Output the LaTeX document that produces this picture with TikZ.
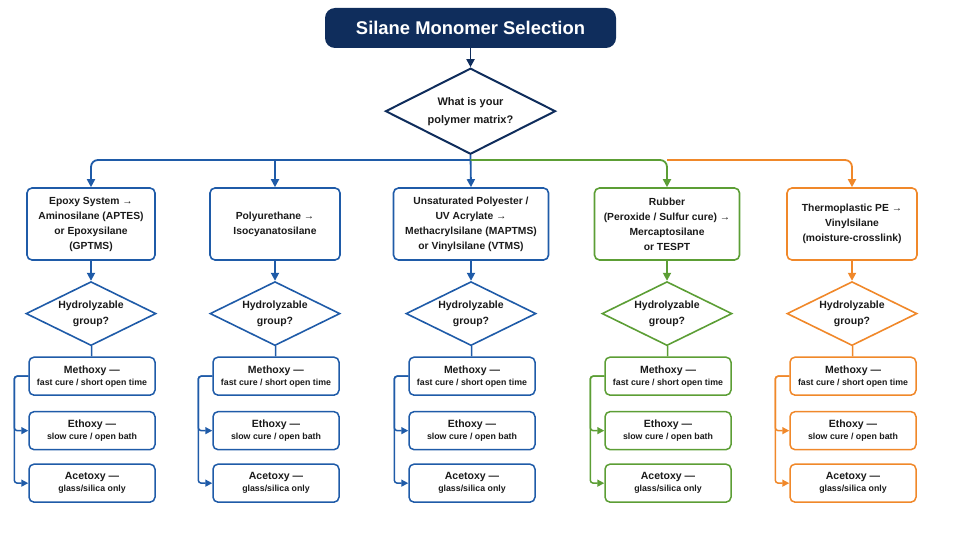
\documentclass[tikz,border=0pt]{standalone}
\usepackage{fontspec}
\setmainfont{Liberation Sans}
\usepackage{tikz}
\usetikzlibrary{arrows.meta, positioning, shapes.geometric}
\usepackage{xcolor}
\definecolor{smnavy}{HTML}{0F2D5C}
\definecolor{smblue}{HTML}{1F5BA8}
\definecolor{smgreen}{HTML}{5C9E35}
\definecolor{smorange}{HTML}{F0882A}
\definecolor{smtext}{HTML}{1A1A1A}

\begin{document}
\begin{tikzpicture}[x=1pt, y=-1pt,
  title/.style={rounded corners=10pt, fill=smnavy, text=white, minimum width=291pt,
                minimum height=40pt, font=\fontsize{18.4}{22}\selectfont\bfseries},
  bigq/.style={diamond, aspect=2, draw=smnavy, line width=2pt, minimum width=170pt, minimum height=86pt,
               inner sep=0pt, align=center, text=smtext, font=\fontsize{11}{18}\selectfont\bfseries},
  pick/.style={rounded corners=5pt, draw, line width=1.6pt, minimum height=72pt, inner sep=3pt,
               align=center, text=smtext, font=\fontsize{10.3}{15}\selectfont\bfseries},
  hq/.style={diamond, aspect=2, draw, line width=1.6pt, minimum width=130pt, minimum height=64pt,
             inner sep=0pt, align=center, text=smtext, font=\fontsize{10.5}{16}\selectfont\bfseries},
  opt/.style={rounded corners=5pt, draw, line width=1.5pt, minimum width=126pt, minimum height=38pt,
              inner sep=2pt, align=center, text=smtext, font=\bfseries},
  link/.style={line width=1.8pt, -{Triangle[length=8pt, width=8pt]}},
  sublink/.style={line width=1.5pt, -{Triangle[length=7pt, width=7pt]}},
]
  \useasboundingbox (0,0) rectangle (960,540);

  \node[title] (title) at (470.5,28) {Silane Monomer Selection};
  \node[bigq, below=19pt of title] (q) {What is your\\polymer matrix?};
  \coordinate (bus) at (470,160);

  % polymer families
  \node[pick, draw=smblue, minimum width=128pt] (b1) at (91,224) {
    Epoxy System →\\Aminosilane (APTES)\\or Epoxysilane\\(GPTMS)};
  \node[pick, draw=smblue, minimum width=130pt] (b2) at (275,224) {
    Polyurethane →\\Isocyanatosilane};
  \node[pick, draw=smblue, minimum width=155pt] (b3) at (471,224) {
    Unsaturated Polyester /\\UV Acrylate →\\Methacrylsilane (MAPTMS)\\or Vinylsilane (VTMS)};
  \node[pick, draw=smgreen, minimum width=145pt] (b4) at (667,224) {
    Rubber\\(Peroxide / Sulfur cure) →\\Mercaptosilane\\or TESPT};
  \node[pick, draw=smorange, minimum width=130pt] (b5) at (852,224) {
    Thermoplastic PE →\\Vinylsilane\\(moisture-crosslink)};

  \draw[link, smnavy] (title) -- (q);
  \draw[link, smblue] (q.south) -- (b3.north);
  \draw[link, smblue, rounded corners=7pt] (q.south |- bus) -| (b1.north);
  \draw[link, smblue] (b2.north |- bus) -- (b2.north);
  \draw[link, smgreen, rounded corners=7pt] (q.south |- bus) -| (b4.north);
  \draw[link, smorange, rounded corners=7pt] (b4.north |- bus) -| (b5.north);

  % hydrolyzable group for each family
  \foreach \i/\col in {1/smblue, 2/smblue, 3/smblue, 4/smgreen, 5/smorange} {
    \node[hq, draw=\col, below=20pt of b\i] (h\i) {Hydrolyzable\\group?};
    \node[opt, draw=\col, below=10pt of h\i, xshift=1pt] (m\i) {
      {\fontsize{10.5}{14}\selectfont Methoxy —}\\{\fontsize{8.8}{12}\selectfont fast cure / short open time}};
    \node[opt, draw=\col, below=15pt of m\i] (e\i) {
      {\fontsize{10.5}{14}\selectfont Ethoxy —}\\{\fontsize{8.8}{12}\selectfont slow cure / open bath}};
    \node[opt, draw=\col, below=13pt of e\i] (a\i) {
      {\fontsize{10.5}{14}\selectfont Acetoxy —}\\{\fontsize{8.8}{12}\selectfont glass/silica only}};
    \draw[link, \col] (b\i) -- (h\i);
    \draw[line width=1.5pt, \col] (h\i) -- (m\i);
    \draw[sublink, \col, rounded corners=3pt] (m\i.west) -- ++(-14pt,0) |- (e\i.west);
    \draw[sublink, \col, rounded corners=3pt] (m\i.west) -- ++(-14pt,0) |- (a\i.west);
  }
\end{tikzpicture}
\end{document}
